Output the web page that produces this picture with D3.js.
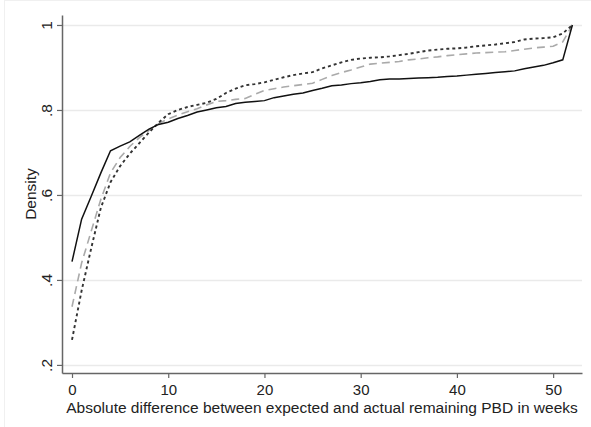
<!DOCTYPE html>
<html><head><meta charset="utf-8">
<script src="https://cdn.jsdelivr.net/npm/d3@7"></script>
<style>body{margin:0;background:#fff}svg{display:block}text{font-family:"Liberation Sans",Arial,sans-serif;fill:#222}</style>
</head><body><svg id="c" width="591" height="427"></svg>
<script>
const weeks = d3.range(0, 53);
const solidVals = [.443,.543,.597,.652,.704,.715,.725,.740,.755,.766,.771,.780,.787,.795,.800,.805,.808,.815,.818,.820,.822,.829,.833,.837,.840,.846,.851,.857,.859,.862,.864,.867,.871,.873,.873,.874,.875,.876,.877,.879,.880,.882,.884,.886,.888,.890,.892,.897,.901,.905,.911,.918,1.0];
const dashVals = [.337,.44,.515,.59,.652,.688,.714,.735,.752,.768,.779,.788,.796,.803,.812,.820,.822,.825,.827,.837,.846,.850,.854,.857,.860,.863,.872,.881,.888,.894,.901,.908,.910,.912,.914,.918,.920,.923,.925,.928,.930,.932,.934,.935,.936,.937,.940,.943,.946,.948,.950,.960,1.0];
const dotVals = [.259,.375,.475,.57,.63,.668,.697,.722,.747,.770,.790,.800,.807,.812,.817,.826,.840,.850,.858,.861,.865,.871,.877,.882,.886,.889,.898,.905,.912,.918,.921,.923,.924,.926,.929,.932,.936,.940,.942,.944,.945,.947,.950,.952,.954,.957,.960,.966,.968,.969,.971,.980,1.0];
const xTicks = [0,10,20,30,40,50];
const yTicks = [.2,.4,.6,.8,1];
const yTickLabels = [".2",".4",".6",".8","1"];
const xTitle = "Absolute difference between expected and actual remaining PBD in weeks";
const yTitle = "Density";

const svg = d3.select("#c");
const L=62, R=582, T=15, B=373;
const FS = 15.5;
const x = d3.scaleLinear().domain([-1.04, 53]).range([L, R]);
const y = d3.scaleLinear().domain([0.181, 1.0235]).range([B, T]);

// faint outer frame
svg.append("line").attr("x1",4.5).attr("x2",4.5).attr("y1",0).attr("y2",427).attr("stroke","#f0f0f0");
svg.append("line").attr("x1",4.5).attr("x2",591).attr("y1",0.5).attr("y2",0.5).attr("stroke","#f0f0f0");

// gridlines
svg.append("g").selectAll("line").data(yTicks).join("line")
  .attr("x1",L).attr("x2",R).attr("y1",d=>Math.round(y(d))+0.5).attr("y2",d=>Math.round(y(d))+0.5)
  .attr("stroke","#eaeaea").attr("stroke-width",1.5);

// axes
const xAxis = svg.append("g").attr("transform",`translate(0,${B})`)
  .call(d3.axisBottom(x).tickValues(xTicks).tickSize(5).tickPadding(0).tickSizeOuter(0));
const yAxis = svg.append("g").attr("transform",`translate(${L},0)`)
  .call(d3.axisLeft(y).tickValues(yTicks).tickSize(5).tickSizeOuter(0).tickFormat((d,i)=>yTickLabels[i]));
[xAxis,yAxis].forEach(a=>{
  a.select(".domain").attr("stroke","#666").attr("stroke-width",1.5);
  a.selectAll(".tick line").attr("stroke","#666").attr("stroke-width",1.2);
  a.selectAll("text").attr("font-size",FS).attr("fill","#222").style("font-family","'Liberation Sans',Arial,sans-serif");
});
xAxis.selectAll(".tick text").attr("font-size",15).attr("y",22).attr("dy","0");
yAxis.selectAll(".tick text").attr("transform","rotate(-90)").attr("x",0).attr("y",-10).attr("dy","0").attr("text-anchor","middle");

// lines
const line = vals => d3.line().x((d,i)=>x(weeks[i])).y(d=>y(d))(vals);
const g = svg.append("g").attr("fill","none");
g.append("path").attr("d",line(dashVals)).attr("stroke","#aaaaaa").attr("stroke-width",1.6).attr("stroke-dasharray","8,5");
g.append("path").attr("d",line(dotVals)).attr("stroke","#333").attr("stroke-width",1.9).attr("stroke-dasharray","3,3");
g.append("path").attr("d",line(solidVals)).attr("stroke","#111").attr("stroke-width",1.5);

// titles
svg.append("text").attr("x",(L+R)/2).attr("y",413).attr("text-anchor","middle").attr("font-size",FS).text(xTitle);
svg.append("text").attr("transform",`translate(36,${(T+B)/2}) rotate(-90)`).attr("text-anchor","middle").attr("font-size",FS).text(yTitle);
</script></body></html>
